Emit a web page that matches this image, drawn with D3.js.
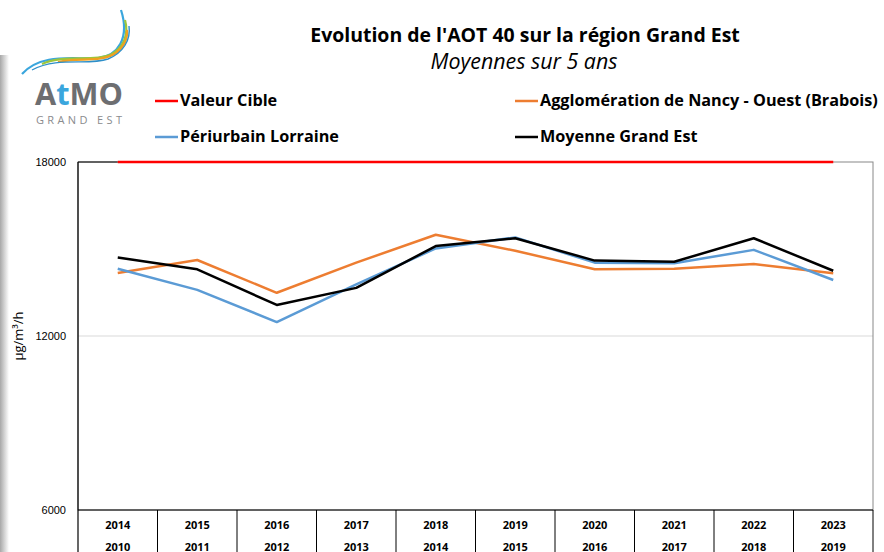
<!DOCTYPE html>
<html>
<head>
<meta charset="utf-8">
<script src="https://cdn.jsdelivr.net/npm/d3@7"></script>
<style>
  body { margin: 0; background: #fff; }
  svg { display: block; font-family: "Open Sans", Lato, sans-serif; }
</style>
</head>
<body>
<div id="chart"></div>
<script>
// Data
const periods = [
    ['2014', '2010'], ['2015', '2011'], ['2016', '2012'], ['2017', '2013'], ['2018', '2014'],
    ['2019', '2015'], ['2020', '2016'], ['2021', '2017'], ['2022', '2018'], ['2023', '2019']
];
const valeurCible = [18000, 18000, 18000, 18000, 18000, 18000, 18000, 18000, 18000, 18000];
const nancyOuest = [14170, 14620, 13490, 14530, 15490, 14940, 14300, 14320, 14480, 14160];
const periurbain = [14320, 13590, 12480, 13780, 15020, 15400, 14530, 14510, 14970, 13930];
const moyenneGE = [14710, 14300, 13070, 13660, 15100, 15370, 14600, 14560, 15370, 14250];
const yTicks = [6000, 12000, 18000];

const series = [
    { name: 'Valeur Cible', values: valeurCible, color: '#ff0000' },
    { name: 'Agglomération de Nancy - Ouest (Brabois)', values: nancyOuest, color: '#ed7d31' },
    { name: 'Périurbain Lorraine', values: periurbain, color: '#5b9bd5' },
    { name: 'Moyenne Grand Est', values: moyenneGE, color: '#000000' }
];

const width = 884, height = 552;
const plot = { left: 78, right: 873, top: 162, bottom: 510 };

const svg = d3.select('#chart').append('svg')
    .attr('width', width)
    .attr('height', height);

// shrink/grow a text's font-size so it spans roughly the given width
function fitText(sel, target) {
    const node = sel.node();
    const size = parseFloat(sel.attr('font-size'));
    const len = node.getComputedTextLength();
    if (len > 0) sel.attr('font-size', (size * target / len).toFixed(2));
}

// Left page shadow
const grad = svg.append('defs').append('linearGradient').attr('id', 'shade');
grad.append('stop').attr('offset', '0%').attr('stop-color', '#a8a8a8');
grad.append('stop').attr('offset', '100%').attr('stop-color', '#ffffff');
svg.append('rect').attr('x', 0).attr('y', 55).attr('width', 9).attr('height', 497).attr('fill', 'url(#shade)');

// Logo
const logo = svg.append('g');
const swoosh = [
    { d: 'M22,74 C42,52 75,60 98,58 C118,56 130,38 121,10', c: '#3aa6dd', w: 2.2 },
    { d: 'M42,64 C65,54 92,62 110,55 C124,48 129,34 125,20', c: '#9cc63b', w: 2.2 },
    { d: 'M58,62 C80,57 100,63 116,53 C124,47 128,38 127,30', c: '#f0a020', w: 2.2 },
    { d: 'M32,70 C58,56 88,66 108,59 C123,53 131,40 129,26', c: '#2e8fc9', w: 1.4 }
];
logo.selectAll('path').data(swoosh).enter().append('path')
    .attr('d', d => d.d)
    .attr('fill', 'none')
    .attr('stroke', d => d.c)
    .attr('stroke-width', d => d.w);
const atmo = logo.append('text')
    .attr('x', 35).attr('y', 105)
    .attr('font-weight', 'bold')
    .attr('font-size', 29)
    .attr('fill', '#6d6e71');
atmo.append('tspan').text('A');
atmo.append('tspan').attr('fill', '#3aa6dd').text('t');
atmo.append('tspan').text('MO');
fitText(atmo, 88);
logo.append('text')
    .attr('x', 36).attr('y', 124)
    .attr('font-size', 11)
    .attr('fill', '#8a8b8e')
    .attr('textLength', 86)
    .text('GRAND EST');

// Titles
const title = svg.append('text')
    .attr('x', 525).attr('y', 42)
    .attr('text-anchor', 'middle')
    .attr('font-weight', 'bold')
    .attr('font-size', 18)
    .text("Evolution de l'AOT 40 sur la région Grand Est");
fitText(title, 430);
const subtitle = svg.append('text')
    .attr('x', 524).attr('y', 69)
    .attr('text-anchor', 'middle')
    .attr('font-style', 'italic')
    .attr('font-size', 17)
    .text('Moyennes sur 5 ans');
fitText(subtitle, 187);

// Legend
const legendPos = [[155, 101], [515, 101], [155, 137], [515, 137]];
const legend = svg.append('g').selectAll('g')
    .data(series)
    .enter().append('g')
    .attr('transform', (d, i) => `translate(${legendPos[i][0]},${legendPos[i][1]})`);
legend.append('line')
    .attr('x1', 0).attr('x2', 23)
    .attr('stroke', d => d.color)
    .attr('stroke-width', 2.5);
legend.append('text')
    .attr('x', 25).attr('y', 5)
    .attr('font-weight', 'bold')
    .attr('font-size', 14)
    .text(d => d.name);
fitText(legend.filter((d, i) => i === 1).select('text'), 338);
const legendSize = legend.filter((d, i) => i === 1).select('text').attr('font-size');
legend.selectAll('text').attr('font-size', legendSize);

// Scales
const x = d3.scaleBand()
    .domain(periods.map(p => p[0]))
    .range([plot.left, plot.right]);
const y = d3.scaleLinear()
    .domain([6000, 18000])
    .range([plot.bottom, plot.top]);

// Gridline
svg.append('g').selectAll('line')
    .data(yTicks.filter(t => t === 12000))
    .enter().append('line')
    .attr('x1', plot.left).attr('x2', plot.right)
    .attr('y1', d => y(d)).attr('y2', d => y(d))
    .attr('stroke', '#d9d9d9');

// Plot frame
svg.append('rect')
    .attr('x', plot.left).attr('y', plot.top)
    .attr('width', plot.right - plot.left)
    .attr('height', plot.bottom - plot.top)
    .attr('fill', 'none')
    .attr('stroke', '#888');
svg.append('line')
    .attr('x1', plot.left).attr('x2', plot.left)
    .attr('y1', plot.top).attr('y2', height)
    .attr('stroke', '#000').attr('stroke-width', 1.2);
svg.append('line')
    .attr('x1', plot.left).attr('x2', x(periods[0][0]) + x.bandwidth() / 2)
    .attr('y1', plot.top).attr('y2', plot.top)
    .attr('stroke', '#000');
svg.append('line')
    .attr('x1', plot.left).attr('x2', plot.right)
    .attr('y1', plot.bottom).attr('y2', plot.bottom)
    .attr('stroke', '#000').attr('stroke-width', 1.2);

// Y axis labels
const yAxis = svg.append('g')
    .attr('transform', `translate(${plot.left},0)`)
    .call(d3.axisLeft(y).tickValues(yTicks).tickSize(0).tickPadding(12).tickFormat(d3.format('d')));
yAxis.select('.domain').remove();
yAxis.selectAll('text').attr('font-family', '"Liberation Sans", Arial, sans-serif').attr('font-size', 11).attr('fill', '#000');

svg.append('text')
    .attr('transform', `translate(23,${y(12000)}) rotate(-90)`)
    .attr('text-anchor', 'middle')
    .attr('font-size', 13)
    .text('µg/m³/h');

// X axis table
const cells = svg.append('g').selectAll('g')
    .data(periods)
    .enter().append('g')
    .attr('transform', d => `translate(${x(d[0])},0)`);
cells.append('line')
    .attr('x1', x.bandwidth()).attr('x2', x.bandwidth())
    .attr('y1', plot.bottom).attr('y2', height)
    .attr('stroke', '#000');
cells.append('text')
    .attr('x', x.bandwidth() / 2).attr('y', 529)
    .attr('text-anchor', 'middle')
    .attr('font-weight', 'bold')
    .attr('font-size', 11)
    .text(d => d[0]);
cells.append('text')
    .attr('x', x.bandwidth() / 2).attr('y', 551)
    .attr('text-anchor', 'middle')
    .attr('font-weight', 'bold')
    .attr('font-size', 11)
    .text(d => d[1]);

// Lines
const line = d3.line()
    .x((d, i) => x(periods[i][0]) + x.bandwidth() / 2)
    .y(d => y(d));
svg.append('g').selectAll('path')
    .data(series)
    .enter().append('path')
    .attr('d', d => line(d.values))
    .attr('fill', 'none')
    .attr('stroke', d => d.color)
    .attr('stroke-width', 2.5)
    .attr('stroke-linejoin', 'round');
</script>
</body>
</html>
